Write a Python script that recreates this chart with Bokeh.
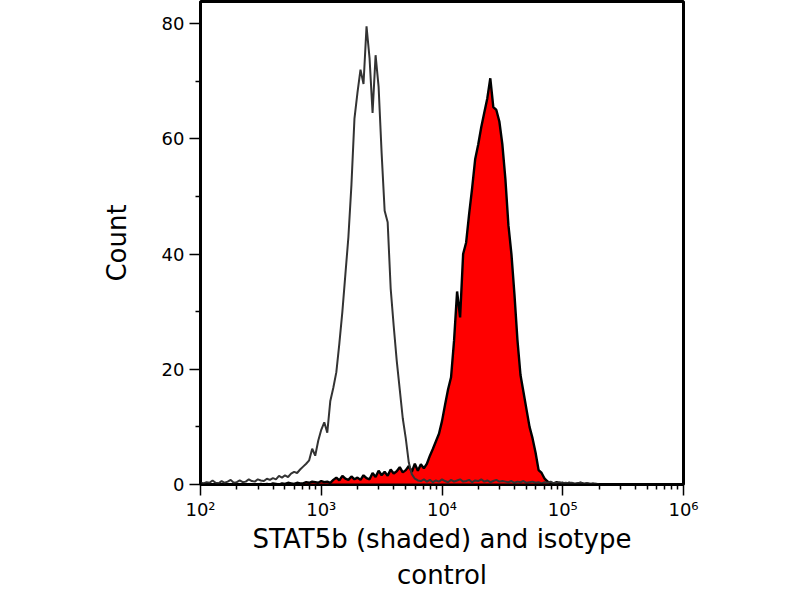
from bokeh.plotting import figure
from bokeh.models import Range1d, FixedTicker, ColumnDataSource
from bokeh.embed import file_html
from bokeh.resources import INLINE

# Histogram channels, log10 of fluorescence intensity (step 0.025 decade)
bin_log10 = [round(2 + k * 0.025, 3) for k in range(133)]

# Isotype control (open grey outline)
isotype = [
    0.3, 0.2, 0.4, 0.3, 0.7, 0.3, 0.2, 0.6, 0.3, 0.5,
    0.8, 0.3, 0.4, 0.7, 0.4, 0.5, 0.9, 0.6, 0.5, 0.9,
    0.7, 0.6, 1.0, 0.8, 1.1, 0.9, 1.5, 1.2, 1.6, 1.3,
    1.9, 2.2, 2.0, 2.6, 3.1, 3.6, 4.2, 6.2, 5.0, 7.6,
    9.5, 10.8, 9.0, 14.5, 16.8, 19.5, 24.5, 30.0, 36.5, 43.0,
    52.0, 63.5, 68.0, 72.0, 69.5, 79.5, 74.0, 64.5, 74.5, 69.0,
    57.5, 47.5, 45.5, 34.0, 27.5, 21.5, 16.5, 11.5, 8.0, 3.8,
    1.8, 1.0, 0.7,
    0.6, 0.9, 0.5, 0.8, 0.4, 0.7, 0.5, 0.9, 0.6, 0.4,
    0.8, 0.5, 0.7, 0.9, 0.5, 0.6, 0.8, 0.4, 0.7, 0.6,
    0.9, 0.5, 0.7, 0.4, 0.6, 0.8, 0.5, 0.6,
    0.5, 0.4, 0.6, 0.3, 0.5, 0.4, 0.6, 0.3, 0.4, 0.5,
    0.3, 0.4, 0.2, 0.4, 0.3, 0.5, 0.2, 0.3, 0.4, 0.2,
    0.3, 0.2, 0.3, 0.1, 0.2, 0.3, 0.1, 0.2, 0.1, 0.2,
    0.1, 0.0,
]

# STAT5b stained (red shaded)
stat5b = [
    0, 0, 0, 0, 0, 0, 0, 0, 0, 0,
    0, 0, 0, 0, 0, 0, 0, 0, 0, 0,
    0.1, 0, 0.1, 0, 0.2, 0.1, 0, 0.2, 0.1, 0.3,
    0.2, 0.1, 0.3, 0.2,
    0.2, 0.4, 0.3, 0.5, 0.4, 0.3, 0.6, 0.4, 0.5, 0.3,
    0.8, 1.2, 0.7, 1.5, 1.0, 0.8, 1.4, 0.9, 1.2, 0.8,
    1.6, 1.1, 0.9, 2.0, 1.3, 2.4, 1.6, 2.2, 1.5, 2.6,
    1.9, 2.3, 3.0, 2.1, 2.5, 3.2, 2.2, 3.6, 2.4, 3.5,
    2.8, 3.6, 5.0, 6.2, 7.5, 8.8, 11.0, 13.8, 16.5, 18.6,
    25.0, 33.5, 29.0, 40.0, 42.0, 47.0, 51.5, 56.5, 59.0, 62.0,
    64.5, 67.0, 70.5, 65.5, 65.0, 63.0, 59.0, 53.0, 45.0, 40.0,
    33.0, 25.0, 19.0, 16.0, 13.0, 10.0, 8.0, 5.5, 2.5, 2.0,
    1.0, 0.5,
    0.3, 0.2, 0.4, 0.2, 0.3, 0.1, 0.3, 0.2, 0.1, 0.2,
    0.3, 0.1, 0.2, 0.1, 0.0, 0.1, 0.0,
]

x_major = [1e2, 1e3, 1e4, 1e5, 1e6]
x_labels = {100: "10²", 1000: "10³", 10000: "10⁴", 100000: "10⁵", 1000000: "10⁶"}
y_major = [0, 20, 40, 60, 80]
y_minor = [10, 30, 50, 70]
x_title = "STAT5b (shaded) and isotype\ncontrol"
y_title = "Count"

n = min(len(bin_log10), len(isotype), len(stat5b))
src = ColumnDataSource(dict(
    x=[10 ** v for v in bin_log10[:n]],
    iso=isotype[:n],
    stat=stat5b[:n],
))

FONT = "DejaVu Sans"
W, H = 784, 592
LEFT, RIGHT, TOP, BOTTOM = 200, 101, 1, 108

p = figure(
    width=W, height=H,
    x_axis_type="log",
    x_range=Range1d(1e2, 1e6),
    y_range=Range1d(0, 83.82),
    output_backend="svg",
    toolbar_location=None,
    min_border_left=LEFT, min_border_right=RIGHT,
    min_border_top=TOP, min_border_bottom=BOTTOM,
)
p.grid.visible = False
p.background_fill_color = "white"
p.border_fill_color = "white"
p.outline_line_color = "black"
p.outline_line_width = 3

p.varea(x="x", y1=0, y2="stat", source=src, fill_color="#ff0000")
p.line(x="x", y="stat", source=src, line_color="black", line_width=2.4)
p.line(x="x", y="iso", source=src, line_color="#333333", line_width=2)

minor_x = [m * 10 ** e for e in range(2, 6) for m in range(2, 10)]
p.xaxis.ticker = FixedTicker(ticks=x_major, minor_ticks=minor_x)
p.xaxis.major_label_overrides = x_labels
p.yaxis.ticker = FixedTicker(ticks=y_major, minor_ticks=y_minor)

for ax in (p.xaxis[0], p.yaxis[0]):
    ax.axis_line_width = 2
    ax.axis_line_color = "black"
    ax.major_tick_line_width = 1.5
    ax.minor_tick_line_width = 1.5
    ax.major_tick_in = 0
    ax.major_tick_out = 11
    ax.minor_tick_in = 0
    ax.minor_tick_out = 5
    ax.major_label_text_font = FONT
    ax.major_label_text_font_size = "18px"
    ax.major_label_text_color = "black"
    ax.axis_label_text_font = FONT
    ax.axis_label_text_font_size = "26px"
    ax.axis_label_text_font_style = "normal"
    ax.axis_label_text_color = "black"

p.xaxis.major_label_standoff = 3
p.xaxis.axis_label = x_title
p.xaxis.axis_label_standoff = 1
p.yaxis.major_label_standoff = 5
p.yaxis.axis_label = y_title
p.yaxis.axis_label_standoff = 27

open("out.html", "w").write(file_html(p, INLINE))
